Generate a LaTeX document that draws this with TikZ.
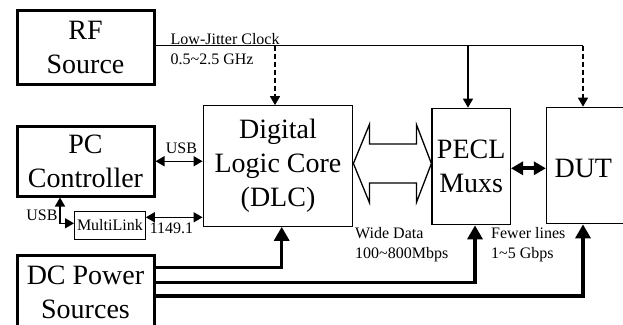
\documentclass[tikz,border=0pt]{standalone}
\usepackage{fontspec}
\setmainfont{Liberation Serif}
\usetikzlibrary{arrows.meta,calc}
\begin{document}
\begin{tikzpicture}[x=1pt,y=-1pt,
  big/.style={font=\fontsize{28}{34}\selectfont, align=center},
  lbl/.style={font=\fontsize{16}{20}\selectfont, align=left, inner sep=0pt},
  heavybox/.style={draw, line width=3pt, inner sep=0pt},
  lightbox/.style={draw, line width=1.3pt, inner sep=0pt},
  sig/.style={line width=1.4pt},
  tipone/.style={-{Triangle[length=9pt,width=10pt]}},
  tiptwo/.style={{Triangle[length=9pt,width=10pt]}-{Triangle[length=9pt,width=10pt]}},
  dashline/.style={dash pattern=on 5pt off 3pt},
  power/.style={line width=3.3pt, -{Triangle[length=14pt,width=15pt]}},
  fat/.style={line width=4pt, {Triangle[length=12pt,width=13pt]}-{Triangle[length=12pt,width=13pt]}},
  hollow/.style={line width=1.3pt, line join=miter}
]
\useasboundingbox (0,0) rectangle (623,324);
\clip (0,0) rectangle (623,324);

% boxes
\node[heavybox, big, minimum width=137pt, minimum height=74pt] (rf) at (85.5,47) {RF\\Source};
\node[heavybox, big, minimum width=137pt, minimum height=69.5pt] (pc) at (85.5,161.25) {PC\\Controller};
\node[heavybox, minimum width=137pt, minimum height=85pt] (dc) at (85.5,297.5) {};
\node[big] (dctext) at (85.5,292.5) {DC Power\\Sources};
\node[lightbox, big, minimum width=149.5pt, minimum height=120.4pt] (dlc) at (278,166) {Digital\\Logic Core\\(DLC)};
\node[lightbox, big, minimum width=78.3pt, minimum height=116.4pt] (pecl) at (471.2,166.5) {PECL\\Muxs};
\node[lightbox, minimum width=103.5pt, minimum height=116.4pt] (dut) at (598.25,165.5) {};
\node[big] (duttext) at (583.3,168) {DUT};
\node[draw, line width=1pt, inner sep=0pt, minimum width=70.8pt, minimum height=28pt,
      font=\fontsize{16}{20}\selectfont] (ml) at (109.9,225) {MultiLink};

% clock distribution
\coordinate (ck) at (583,45.7);
\coordinate (ck1) at (275,45.7);
\coordinate (ck2) at (468,45.7);
\draw[sig] (rf.east |- ck) -- (ck);
\draw[sig, dashline, tipone] (ck1) -- (ck1 |- dlc.north);
\draw[sig, tipone] (ck2) -- (ck2 |- pecl.north);
\draw[sig, dashline, tipone] (ck) -- (ck |- dut.north);
\node[lbl, anchor=north west] (clk) at (170.5,33) {Low-Jitter Clock\\0.5\textasciitilde2.5 GHz};

% controller links
\draw[sig, tiptwo] (pc.east) -- (pc.east -| dlc.west);
\node[lbl] (usb1) at (181.5,148.5) {USB};
\coordinate (jt) at (0,217.3);
\draw[sig, tiptwo] (ml.east |- jt) -- (dlc.west |- jt);
\node[lbl] (jtag) at (171.5,228.5) {1149.1};
\coordinate (ue) at (60,223.3);
\draw[sig, tiptwo] (ue |- pc.south) -- (ue) -- (ml.west |- ue);
\node[lbl] (usb2) at (42,215) {USB};

% wide data hollow arrow
\coordinate (wl) at (dlc.east |- 0,163.5);
\coordinate (wr) at (pecl.west |- 0,163.5);
\draw[hollow] (wl) -- ($(wl)+(16,-39)$) -- ($(wl)+(16,-19.5)$) -- ($(wr)+(-15,-19.5)$)
  -- ($(wr)+(-15,-39)$) -- (wr) -- ($(wr)+(-15,39)$) -- ($(wr)+(-15,19.5)$)
  -- ($(wl)+(16,19.5)$) -- ($(wl)+(16,39)$) -- cycle;
\node[lbl, anchor=north west] (wd) at (355,227.3) {Wide Data\\100\textasciitilde800Mbps};

% fast link
\coordinate (pd) at (0,168.3);
\draw[fat] (pecl.east |- pd) -- (dut.west |- pd);
\node[lbl, anchor=north west] (fl) at (491,227.3) {Fewer lines\\1\textasciitilde5 Gbps};

% power
\coordinate (pw1) at (281.7,267.3);
\coordinate (pw2) at (475,282.7);
\coordinate (pw3) at (583,296);
\draw[power] (dc.east |- pw1) -| (pw1 |- dlc.south);
\draw[power] (dc.east |- pw2) -| (pw2 |- pecl.south);
\draw[power] (dc.east |- pw3) -| (pw3 |- dut.south);
\end{tikzpicture}
\end{document}
